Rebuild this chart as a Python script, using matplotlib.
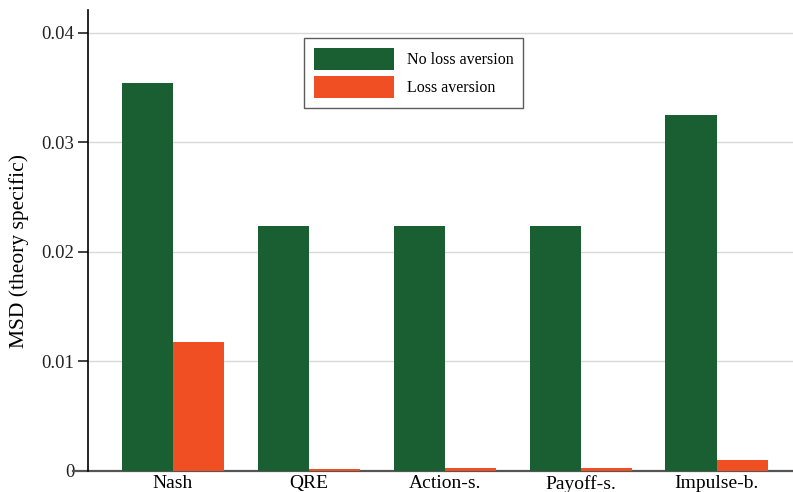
import numpy as np
import matplotlib
matplotlib.use("Agg")
import matplotlib.pyplot as plt

plt.rcParams['font.family'] = ['Liberation Serif', 'DejaVu Serif']

theories = ['Nash', 'QRE', 'Action-s.', 'Payoff-s.', 'Impulse-b.']
no_loss = [0.03543, 0.02237, 0.02237, 0.02237, 0.03251]
loss = [0.01178, 0.00020, 0.00030, 0.00030, 0.00100]
yticks = [0, 0.01, 0.02, 0.03, 0.04]
ytick_labels = ['0', '0.01', '0.02', '0.03', '0.04']

green = '#195f32'
orange = '#f04e23'

fig = plt.figure(figsize=(7.93, 4.92), dpi=100)
ax = fig.add_axes([0.111, 0.0427, 0.889, 0.937])

x = np.arange(len(theories))
w = 0.378
ax.bar(x - w / 2, no_loss, w, color=green, label='No loss aversion', zorder=3)
ax.bar(x + w / 2, loss, w, color=orange, label='Loss aversion', zorder=3)

ax.set_xlim(-0.625, 4.56)
ax.set_ylim(0, 0.0421)
ax.set_yticks(yticks)
ax.set_yticklabels(ytick_labels)
ax.yaxis.grid(True, color='#d9d9d9', lw=1, zorder=0)
ax.set_xticks(x)
ax.set_xticklabels(theories)
ax.tick_params(axis='x', length=0, pad=3, labelsize=14)
ax.tick_params(axis='y', length=7, width=1.2, direction='out', pad=3,
               labelsize=13.5, colors='#222222')

for s in ['top', 'right', 'bottom']:
    ax.spines[s].set_visible(False)
ax.spines['left'].set_linewidth(1.2)
# baseline runs a little past the left spine
ax.axhline(0, xmin=-0.021, xmax=1, color='#555555', lw=1.6, clip_on=False, zorder=2.5)

ax.set_ylabel('MSD (theory specific)', fontsize=15.5)
ax.yaxis.set_label_coords(-0.084, 0.477)

leg = ax.legend(loc='upper left', bbox_to_anchor=(0.307, 0.939), fontsize=11.5,
                frameon=True, fancybox=False, edgecolor='#333333',
                handlelength=5.0, handleheight=1.8, borderpad=0.6,
                labelspacing=0.35, handletextpad=0.8, borderaxespad=0)
leg.get_frame().set_linewidth(1.0)

fig.savefig('out.png', dpi=100)
